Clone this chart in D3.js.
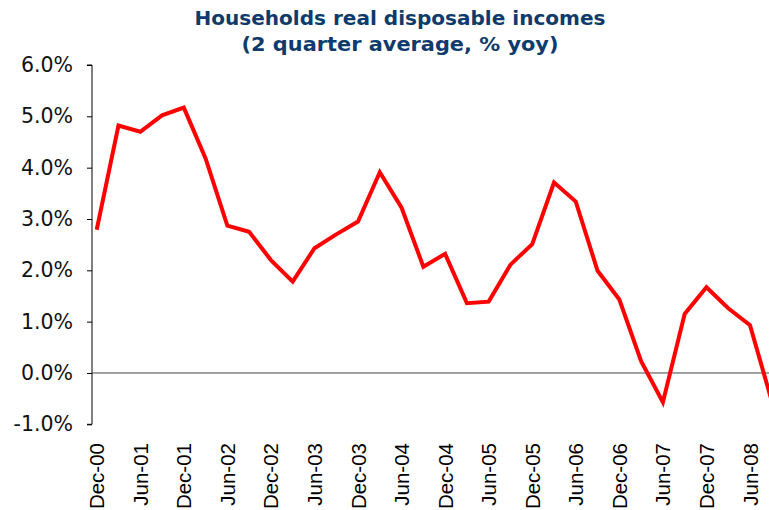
<!DOCTYPE html>
<html>
<head>
<meta charset="utf-8">
<script src="https://cdn.jsdelivr.net/npm/d3@7"></script>
<style>
  body { margin: 0; background: #fff; }
  svg { display: block; }
</style>
</head>
<body>
<div id="chart"></div>
<script>
// chart data
var quarters = ["Dec-00", "Mar-01", "Jun-01", "Sep-01", "Dec-01", "Mar-02", "Jun-02", "Sep-02",
                "Dec-02", "Mar-03", "Jun-03", "Sep-03", "Dec-03", "Mar-04", "Jun-04", "Sep-04",
                "Dec-04", "Mar-05", "Jun-05", "Sep-05", "Dec-05", "Mar-06", "Jun-06", "Sep-06",
                "Dec-06", "Mar-07", "Jun-07", "Sep-07", "Dec-07", "Mar-08", "Jun-08", "Sep-08"];
var incomeGrowth = [2.79, 4.82, 4.70, 5.02, 5.17, 4.18, 2.87, 2.75,
                    2.20, 1.78, 2.43, 2.70, 2.95, 3.91, 3.22, 2.07,
                    2.32, 1.36, 1.39, 2.11, 2.51, 3.71, 3.34, 1.99,
                    1.43, 0.23, -0.57, 1.15, 1.67, 1.26, 0.93, -0.55];
var yTicks = [-1, 0, 1, 2, 3, 4, 5, 6];
var titleLines = ["Households real disposable incomes", "(2 quarter average, % yoy)"];

var svgWidth = 769, svgHeight = 510;
var axisX = 92;

var svg = d3.select("#chart").append("svg")
  .attr("width", svgWidth)
  .attr("height", svgHeight);

svg.append("rect").attr("width", svgWidth).attr("height", svgHeight).attr("fill", "#fff");

// title
var titleY = [25, 51], titleW = [411, 317];
svg.selectAll("text.title").data(titleLines).enter()
  .append("text")
  .attr("class", "title")
  .attr("x", 400)
  .attr("y", function(d, i){ return titleY[i]; })
  .attr("text-anchor", "middle")
  .attr("textLength", function(d, i){ return titleW[i]; })
  .attr("lengthAdjust", "spacingAndGlyphs")
  .style("font-family", "'DejaVu Sans', Verdana, sans-serif")
  .style("font-weight", "bold")
  .style("font-size", "19px")
  .attr("fill", "#0f3b6c")
  .text(function(d){ return d; });

// scales
var x = d3.scaleLinear().domain([0, 30]).range([96.7, 750]);
var y = d3.scaleLinear().domain([-1, 6]).range([424.3, 65]);

// y axis
var yAxis = svg.append("g")
  .attr("transform", "translate(" + axisX + ",0)")
  .call(d3.axisLeft(y).tickValues(yTicks).tickSize(5).tickPadding(14)
    .tickFormat(function(d){ return d.toFixed(1) + "%"; }));
yAxis.select(".domain").attr("stroke", "#000").attr("stroke-width", 1)
  .attr("d", "M-5," + y(6) + "H0V" + y(-1) + "H-5");
yAxis.selectAll(".tick line").attr("stroke", "#000");
yAxis.selectAll(".tick text")
  .style("font-family", "'DejaVu Sans', Verdana, sans-serif")
  .style("font-size", "20.5px")
  .attr("fill", "#111");

// zero line
svg.append("line")
  .attr("x1", axisX).attr("x2", svgWidth)
  .attr("y1", y(0)).attr("y2", y(0))
  .attr("stroke", "#444").attr("stroke-width", 1);

// x labels, every second quarter
svg.selectAll("text.xlab").data(quarters).enter()
  .filter(function(d, i){ return i % 2 === 0; })
  .append("text")
  .attr("class", "xlab")
  .attr("transform", function(d){
    var i = quarters.indexOf(d);
    return "translate(" + (x(i) + 7.5) + ",443) rotate(-90)";
  })
  .attr("text-anchor", "end")
  .style("font-family", "'Liberation Sans', Arial, sans-serif")
  .style("font-size", "20.5px")
  .attr("fill", "#000")
  .text(function(d){ return d; });

// line
var line = d3.line()
  .x(function(d, i){ return x(i); })
  .y(function(d){ return y(d); });

svg.append("path")
  .datum(incomeGrowth)
  .attr("fill", "none")
  .attr("stroke", "#ff0000")
  .attr("stroke-width", 4)
  .attr("stroke-linejoin", "miter")
  .attr("d", line);
</script>
</body>
</html>
